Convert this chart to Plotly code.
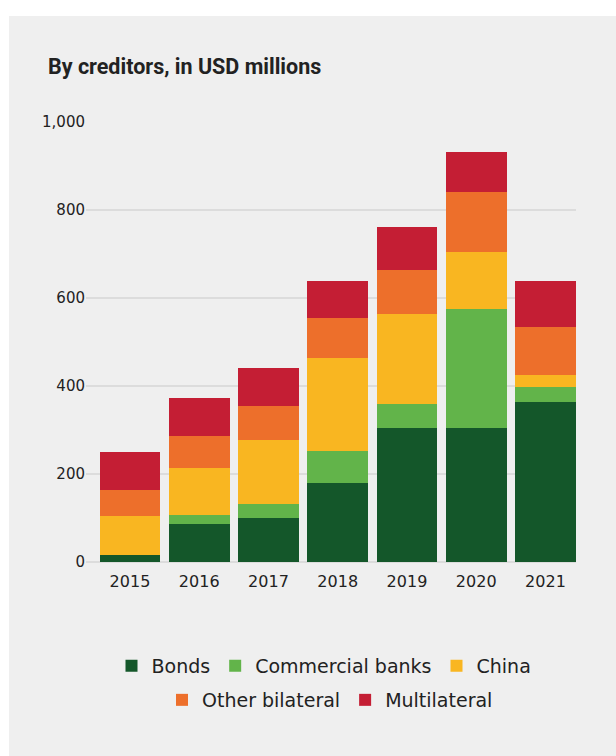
import plotly.graph_objects as go

years = ["2015", "2016", "2017", "2018", "2019", "2020", "2021"]
bonds = [16, 86, 100, 180, 305, 305, 364]
commercial_banks = [0, 21, 32, 72, 54, 270, 34]
china = [89, 107, 145, 212, 205, 130, 27]
other_bilateral = [59, 72, 78, 91, 100, 136, 109]
multilateral = [86, 87, 86, 84, 97, 91, 105]

series = [
    ("Bonds", bonds, "#14572a", "legend"),
    ("Commercial banks", commercial_banks, "#62b44a", "legend"),
    ("China", china, "#f9b621", "legend"),
    ("Other bilateral", other_bilateral, "#ed6f2b", "legend2"),
    ("Multilateral", multilateral, "#c41e34", "legend2"),
]

W, H = 616, 756
L, R, T, B = 86, 40, 122, 194
pw, ph = W - L - R, H - T - B

def px(x):
    return (x - L) / pw

def py(y):
    return (H - B - y) / ph

fig = go.Figure()
for name, vals, color, lg in series:
    fig.add_trace(go.Bar(x=years, y=vals, name=name, marker_color=color,
                         marker_line_width=0, legend=lg))

legend_font = dict(family="DejaVu Sans", size=19, color="#222222")
fig.update_layout(
    width=W, height=H,
    margin=dict(l=L, r=R, t=T, b=B),
    barmode="stack", bargap=0.12,
    paper_bgcolor="white", plot_bgcolor="#efefef",
    showlegend=True,
    legend=dict(orientation="h", x=px(324), xanchor="center", y=py(666), yanchor="middle",
                font=legend_font, bgcolor="rgba(0,0,0,0)", traceorder="normal"),
    legend2=dict(orientation="h", x=px(330), xanchor="center", y=py(700), yanchor="middle",
                 font=legend_font, bgcolor="rgba(0,0,0,0)", traceorder="normal"),
    xaxis=dict(range=[-0.635, 6.441], showgrid=False, showline=False, ticks="",
               ticklabelstandoff=8,
               tickfont=dict(family="DejaVu Sans", size=16, color="#222222"),
               fixedrange=True),
    yaxis=dict(range=[0, 1000], tickvals=[0, 200, 400, 600, 800, 1000], tickformat=",",
               showgrid=True, gridcolor="#dcdcdc", gridwidth=1.5,
               zeroline=True, zerolinecolor="#dcdcdc", zerolinewidth=1.5,
               showline=False, ticks="",
               tickfont=dict(family="DejaVu Sans", size=15, color="#222222")),
    shapes=[dict(type="rect", xref="paper", yref="paper", x0=px(9), x1=px(640),
                 y0=py(780), y1=py(16), fillcolor="#efefef", line_width=0, layer="below")],
    annotations=[dict(text="<b>By creditors, in USD millions</b>", xref="paper", yref="paper",
                      x=px(46), y=py(66), xanchor="left", yanchor="middle", showarrow=False,
                      font=dict(family="Liberation Sans Narrow, Roboto, sans-serif", size=21.5,
                                color="#222222"))],
)

fig.write_html("out.html")
